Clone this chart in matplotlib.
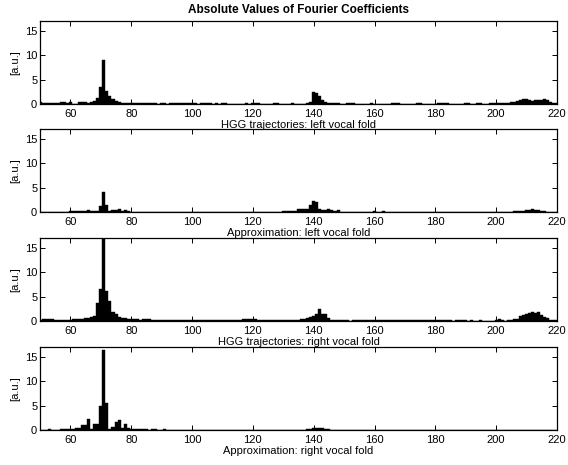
import matplotlib
matplotlib.use("Agg")
import matplotlib.pyplot as plt
import numpy as np

plt.rcParams['font.family'] = ['Liberation Sans', 'DejaVu Sans']

freq = list(range(50, 221))

hgg_left = [
    0.4,0.3,0.2,0.2,0.3,0.2,0.3,0.4,0.4,0.3,
    0.4,0.1,0.1,0.4,0.4,0.4,0.3,0.4,0.7,1.2,
    3.5,9.1,2.6,1.6,1.0,0.6,0.4,0.3,0.3,0.2,
    0.2,0.2,0.3,0.2,0.3,0.3,0.2,0.2,0.2,0.1,
    0.2,0.2,0.1,0.2,0.2,0.2,0.3,0.3,0.2,0.2,
    0.3,0.2,0.1,0.2,0.2,0.3,0.2,0.1,0.2,0.1,
    0.3,0.2,0.1,0.1,0.1,0.1,0.1,0.1,0.2,0.1,
    0.2,0.3,0.2,0.1,0.1,0.1,0.1,0.2,0.2,0.1,
    0.1,0.1,0.1,0.2,0.1,0.1,0.1,0.1,0.2,0.4,
    2.4,2.2,1.6,0.8,0.5,0.3,0.2,0.2,0.2,0.1,
    0.1,0.2,0.2,0.2,0.1,0.1,0.1,0.1,0.1,0.2,
    0.1,0.1,0.1,0.1,0.1,0.1,0.2,0.2,0.2,0.1,
    0.1,0.1,0.1,0.1,0.2,0.2,0.1,0.1,0.1,0.1,
    0.1,0.2,0.2,0.2,0.2,0.1,0.1,0.1,0.1,0.1,
    0.2,0.2,0.1,0.1,0.2,0.2,0.1,0.1,0.2,0.2,
    0.2,0.2,0.2,0.2,0.3,0.4,0.5,0.7,0.9,1.0,
    1.1,0.9,0.6,0.8,0.9,0.9,1.0,0.8,0.5,0.3,
    0.2]

approx_left = [
    0.1,0.1,0.1,0.0,0.1,0.1,0.1,0.1,0.1,0.1,
    0.2,0.2,0.2,0.2,0.2,0.3,0.5,0.2,0.2,0.3,
    1.2,4.1,1.4,0.2,0.4,0.5,0.6,0.2,0.4,0.2,
    0.1,0.1,0.1,0.1,0.1,0.1,0.1,0.1,0.1,0.1,
    0.1,0.0,0.0,0.0,0.0,0.0,0.0,0.0,0.0,0.0,
    0.0,0.0,0.0,0.0,0.0,0.0,0.0,0.0,0.0,0.0,
    0.0,0.0,0.0,0.1,0.0,0.0,0.0,0.0,0.0,0.0,
    0.0,0.0,0.0,0.1,0.0,0.1,0.0,0.1,0.1,0.1,
    0.2,0.2,0.2,0.2,0.2,0.6,0.6,0.6,0.6,1.4,
    2.2,2.0,0.7,0.4,0.5,0.7,0.5,0.3,0.4,0.1,
    0.1,0.0,0.1,0.0,0.1,0.0,0.0,0.1,0.0,0.0,
    0.3,0.0,0.1,0.2,0.1,0.0,0.0,0.0,0.0,0.0,
    0.0,0.0,0.0,0.0,0.0,0.0,0.0,0.0,0.0,0.0,
    0.0,0.0,0.0,0.0,0.0,0.0,0.0,0.0,0.0,0.0,
    0.0,0.0,0.0,0.0,0.0,0.0,0.0,0.0,0.0,0.0,
    0.0,0.0,0.0,0.0,0.0,0.1,0.2,0.3,0.2,0.2,
    0.4,0.5,0.6,0.5,0.4,0.3,0.2,0.1,0.1,0.1,
    0.0]

hgg_right = [
    0.3,0.4,0.5,0.5,0.4,0.2,0.2,0.3,0.3,0.3,
    0.3,0.4,0.5,0.5,0.5,0.6,0.7,0.8,1.0,3.7,
    6.5,19.0,6.1,4.1,1.8,1.5,0.9,0.7,0.6,0.5,
    0.5,0.4,0.4,0.3,0.4,0.4,0.4,0.3,0.2,0.2,
    0.2,0.3,0.3,0.2,0.3,0.3,0.3,0.2,0.2,0.3,
    0.2,0.2,0.3,0.2,0.3,0.2,0.2,0.3,0.2,0.2,
    0.2,0.2,0.3,0.2,0.2,0.3,0.3,0.4,0.4,0.4,
    0.5,0.4,0.3,0.3,0.2,0.3,0.2,0.2,0.3,0.2,
    0.2,0.2,0.2,0.2,0.3,0.3,0.4,0.5,0.6,0.8,
    1.0,1.5,2.4,1.4,1.4,0.6,0.3,0.2,0.2,0.2,
    0.2,0.2,0.1,0.2,0.2,0.2,0.2,0.2,0.2,0.2,
    0.3,0.2,0.2,0.2,0.2,0.3,0.2,0.2,0.3,0.2,
    0.2,0.2,0.2,0.2,0.3,0.2,0.2,0.2,0.2,0.2,
    0.2,0.3,0.2,0.2,0.2,0.2,0.1,0.2,0.2,0.2,
    0.2,0.1,0.2,0.1,0.1,0.2,0.1,0.1,0.1,0.1,
    0.2,0.5,0.3,0.1,0.2,0.3,0.4,0.5,1.0,1.3,
    1.5,1.7,1.9,1.6,1.8,1.2,0.8,0.6,0.3,0.3,
    0.2]

approx_right = [
    0.1,0.1,0.1,0.2,0.1,0.1,0.1,0.2,0.3,0.3,
    0.3,0.3,0.5,0.4,1.1,1.1,2.2,0.3,1.2,1.2,
    4.9,16.4,5.6,0.3,0.7,1.6,2.1,0.4,1.2,0.5,
    0.3,0.3,0.2,0.2,0.2,0.2,0.1,0.2,0.2,0.1,
    0.1,0.2,0.1,0.1,0.1,0.1,0.1,0.1,0.1,0.1,
    0.1,0.0,0.0,0.1,0.0,0.0,0.0,0.0,0.0,0.0,
    0.0,0.0,0.0,0.0,0.0,0.0,0.0,0.0,0.0,0.0,
    0.0,0.0,0.0,0.0,0.0,0.0,0.0,0.0,0.0,0.0,
    0.0,0.0,0.0,0.0,0.0,0.0,0.1,0.1,0.2,0.3,
    0.4,0.5,0.4,0.4,0.3,0.2,0.1,0.0,0.0,0.0,
    0.0,0.0,0.0,0.0,0.0,0.0,0.0,0.0,0.0,0.0,
    0.0,0.0,0.0,0.0,0.0,0.0,0.0,0.0,0.0,0.0,
    0.0,0.0,0.0,0.0,0.0,0.0,0.0,0.0,0.0,0.0,
    0.0,0.0,0.0,0.0,0.0,0.0,0.0,0.0,0.0,0.0,
    0.0,0.0,0.0,0.0,0.0,0.0,0.0,0.0,0.0,0.0,
    0.0,0.0,0.0,0.0,0.0,0.0,0.1,0.1,0.1,0.0,
    0.0,0.0,0.0,0.0,0.0,0.0,0.0,0.0,0.0,0.0,
    0.0]

series = [hgg_left, approx_left, hgg_right, approx_right]
xlabels = ["HGG trajectories: left vocal fold",
           "Approximation: left vocal fold",
           "HGG trajectories: right vocal fold",
           "Approximation: right vocal fold"]
title = "Absolute Values of Fourier Coefficients"
xticks = [60, 80, 100, 120, 140, 160, 180, 200, 220]
yticks = [0, 5, 10, 15]

W, H = 568, 465
fig = plt.figure(figsize=(W/100, H/100), dpi=100)

left_px, right_px = 40, 557
tops = [21, 129, 238, 347]
ax_h = 83

for i, (vals, xl) in enumerate(zip(series, xlabels)):
    top = tops[i]
    ax = fig.add_axes([left_px/W, 1 - (top+ax_h)/H, (right_px-left_px)/W, ax_h/H])
    ax.bar(freq, vals, width=1.0, color='black', edgecolor='black', linewidth=0.3)
    ax.set_xlim(50, 220)
    ax.set_ylim(0, 17)
    ax.set_xticks(xticks)
    ax.set_yticks(yticks)
    ax.tick_params(axis='x', direction='in', top=True, length=3.5, width=0.7,
                   labelsize=8, pad=3.5)
    ax.tick_params(axis='y', direction='in', right=True, length=3.5, width=0.7,
                   labelsize=8, pad=2)
    for s in ax.spines.values():
        s.set_linewidth(0.9)
    ax.set_ylabel("[a.u.]", fontsize=8, labelpad=3)
    ax.set_xlabel(xl, fontsize=8, labelpad=0.5)
    if i == 0:
        ax.set_title(title, fontsize=8.5, fontweight='bold', pad=5.5)

fig.savefig("out.png", dpi=100)
